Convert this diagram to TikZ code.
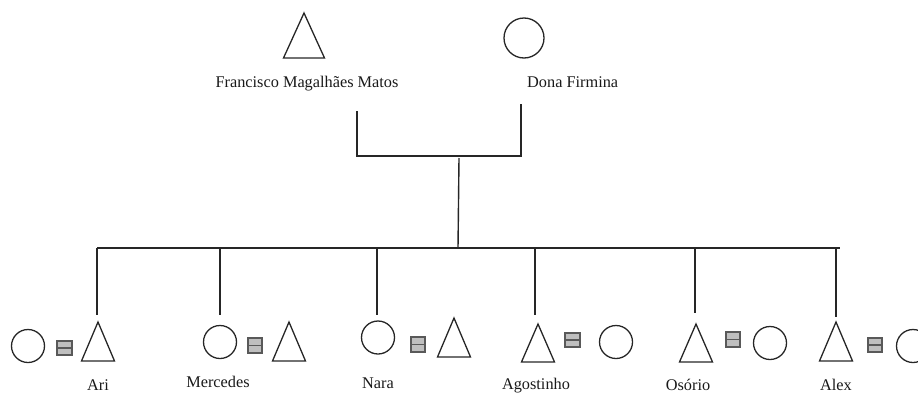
\documentclass[tikz,border=0pt]{standalone}
\usepackage{fontspec}
\setmainfont{Liberation Serif}
\begin{document}
\begin{tikzpicture}[x=1pt,y=-1pt,
  line/.style={draw=black!85,line width=1.4pt},
  shapeline/.style={draw=black!85,line width=1.3pt},
  female/.style={circle,draw=black!85,line width=1.3pt,minimum size=#1,inner sep=0pt},
  female/.default=33pt,
  lbl/.style={font=\fontsize{16.3}{18}\selectfont,text=black!90,anchor=base,inner sep=0pt},
  eqbox/.style={rectangle,draw=black!65,fill=black!25,line width=1.8pt,minimum size=14.5pt,inner sep=0pt,
    path picture={\draw[black!65,line width=1.8pt] (path picture bounding box.west) -- (path picture bounding box.east);}}
]
\useasboundingbox (0,0) rectangle (918,394);

% ---- parents ----
\coordinate (fT) at (304,13);
\draw[shapeline] (fT) -- ++(20.5,45) -- ++(-41,0) -- cycle;
\node[female=40pt] (dona) at (524,38) {};
\node[lbl] (fLbl) at (307,87) {Francisco Magalhães Matos};
\node[lbl,anchor=base west] (dLbl) at (527,87) {Dona Firmina};

% ---- parent connector ----
\coordinate (pL) at (357,111);
\coordinate (pR) at (521,104);
\coordinate (pLb) at (357,156);
\coordinate (pRb) at (521,156);
\coordinate (dTop) at (459,158);
\coordinate (dBot) at (458,248);
\draw[line] (pL) -- (pLb) -- (pRb) -- (pR);
\draw[line] (dTop) -- (dBot);

% ---- sibling line ----
\coordinate (sL) at (97,248);
\coordinate (sR) at (840,248);
\draw[line] (sL) -- (sR);

\foreach \n/\x/\y in {ari/97/315, mer/220/315, nara/377/315, ago/535/315, oso/695/313, alex/836/317}{
  \coordinate (\n Up) at (\x,248);
  \coordinate (\n Dn) at (\x,\y);
  \draw[line] (\n Up) -- (\n Dn);
}

% ---- Ari ----
\node[female] (ariW) at (28,346) {};
\node[eqbox] (ariE) at (64.5,348) {};
\coordinate (ariT) at (98,322);
\draw[shapeline] (ariT) -- ++(16.5,39) -- ++(-33,0) -- cycle;
\node[lbl] (ariL) at (98,390) {Ari};

% ---- Mercedes ----
\node[female] (merW) at (220,342) {};
\node[eqbox] (merE) at (255,345.5) {};
\coordinate (merT) at (289,322);
\draw[shapeline] (merT) -- ++(16.5,39) -- ++(-33,0) -- cycle;
\node[lbl] (merL) at (218,387) {Mercedes};

% ---- Nara ----
\node[female] (naraW) at (378,337.5) {};
\node[eqbox] (naraE) at (418,344.5) {};
\coordinate (naraT) at (454,318);
\draw[shapeline] (naraT) -- ++(16.5,39) -- ++(-33,0) -- cycle;
\node[lbl] (naraL) at (378,388) {Nara};

% ---- Agostinho ----
\coordinate (agoT) at (538,324);
\draw[shapeline] (agoT) -- ++(16.5,38) -- ++(-33,0) -- cycle;
\node[eqbox] (agoE) at (572.5,340) {};
\node[female] (agoW) at (616,342) {};
\node[lbl] (agoL) at (536,389) {Agostinho};

% ---- Osorio ----
\coordinate (osoT) at (696,324);
\draw[shapeline] (osoT) -- ++(16.5,38) -- ++(-33,0) -- cycle;
\node[eqbox] (osoE) at (733,339.5) {};
\node[female] (osoW) at (770,343) {};
\node[lbl] (osoL) at (688,390) {Osório};

% ---- Alex ----
\coordinate (alexT) at (836,322);
\draw[shapeline] (alexT) -- ++(16.5,39) -- ++(-33,0) -- cycle;
\node[eqbox] (alexE) at (875,345) {};
\node[female] (alexW) at (913,346) {};
\node[lbl] (alexL) at (836,390) {Alex};
\end{tikzpicture}
\end{document}
